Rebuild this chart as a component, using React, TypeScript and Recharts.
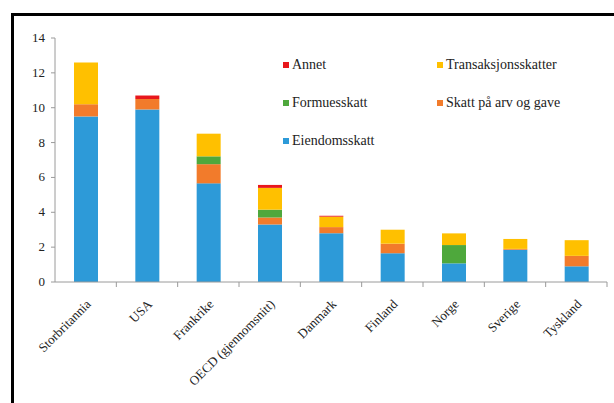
import { BarChart, Bar, XAxis, YAxis } from "recharts";

const countries = ["Storbritannia", "USA", "Frankrike", "OECD (gjennomsnitt)", "Danmark", "Finland", "Norge", "Sverige", "Tyskland"];
const eiendomsskatt = [9.5, 9.9, 5.66, 3.3, 2.8, 1.65, 1.07, 1.85, 0.9];
const arvOgGave = [0.7, 0.6, 1.1, 0.4, 0.35, 0.55, 0, 0.05, 0.6];
const formuesskatt = [0, 0, 0.45, 0.45, 0, 0, 1.05, 0, 0];
const transaksjon = [2.4, 0, 1.3, 1.25, 0.6, 0.8, 0.67, 0.57, 0.9];
const annet = [0, 0.2, 0, 0.17, 0.05, 0, 0, 0, 0];
const yTicks = [0, 2, 4, 6, 8, 10, 12, 14];

const series = [
  { key: "eiendom", name: "Eiendomsskatt", color: "#2d9ad8", values: eiendomsskatt },
  { key: "arv", name: "Skatt på arv og gave", color: "#f27b2b", values: arvOgGave },
  { key: "formue", name: "Formuesskatt", color: "#4ea83c", values: formuesskatt },
  { key: "trans", name: "Transaksjonsskatter", color: "#ffc000", values: transaksjon },
  { key: "annet", name: "Annet", color: "#e8171c", values: annet },
];

// legend order as in the picture, row by row
const legendOrder = ["annet", "trans", "formue", "arv", "eiendom"];

const data = countries.map((c, i) => {
  const row: Record<string, string | number> = { country: c };
  series.forEach((s) => (row[s.key] = s.values[i]));
  return row;
});

const FONT = "'Liberation Serif', serif";
const BAND = 552 / countries.length;

function CountryTick(props: any) {
  const { x, y, payload } = props;
  const tx = x + 6;
  const ty = y + 15;
  return (
    <g>
      <line x1={x + BAND / 2} y1={y - 8} x2={x + BAND / 2} y2={y - 3} stroke="#9a9a9a" />
      <text x={tx} y={ty} transform={`rotate(-45, ${tx}, ${ty})`} textAnchor="end" fontSize={13} fill="#222" fontFamily={FONT}>
        {payload.value}
      </text>
    </g>
  );
}

function ValueTick(props: any) {
  const { x, y, payload } = props;
  return (
    <text x={x} y={y} dy={4} textAnchor="end" fontSize={13} fill="#222" fontFamily={FONT}>
      {payload.value}
    </text>
  );
}

function LegendBox() {
  return (
    <div style={{ position: "absolute", left: 283, top: 58, display: "grid", gridTemplateColumns: "154px 160px", rowGap: 24, fontFamily: FONT, fontSize: 14, color: "#222" }}>
      {legendOrder.map((k) => {
        const s = series.find((x) => x.key === k)!;
        return (
          <div key={k} style={{ display: "flex", alignItems: "center", height: 14, whiteSpace: "nowrap" }}>
            <span style={{ width: 6, height: 6, background: s.color, marginRight: 3, display: "inline-block" }} />
            {s.name}
          </div>
        );
      })}
    </div>
  );
}

export default function App() {
  return (
    <div style={{ position: "absolute", left: 0, top: 0, width: 614, height: 403, background: "#fff", fontFamily: FONT }}>
      <div style={{ position: "absolute", left: 11, top: 13, right: 0, bottom: 0, borderTop: "3px solid #000", borderLeft: "3px solid #000" }} />
      <div style={{ position: "absolute", left: 0, top: 0 }}>
        <BarChart width={614} height={403} data={data} margin={{ top: 38, right: 7, bottom: 0, left: 0 }} barSize={24}>
          <XAxis dataKey="country" interval={0} height={121} tickLine={false} stroke="#9a9a9a" tick={<CountryTick />} />
          <YAxis
            width={55}
            domain={[0, 14]}
            ticks={yTicks}
            tickSize={4}
            tickMargin={6}
            stroke="#9a9a9a"
            tick={<ValueTick />}
          />
          {series.map((s) => (
            <Bar key={s.key} dataKey={s.key} name={s.name} stackId="a" fill={s.color} isAnimationActive={false} />
          ))}
        </BarChart>
      </div>
      <LegendBox />
    </div>
  );
}
